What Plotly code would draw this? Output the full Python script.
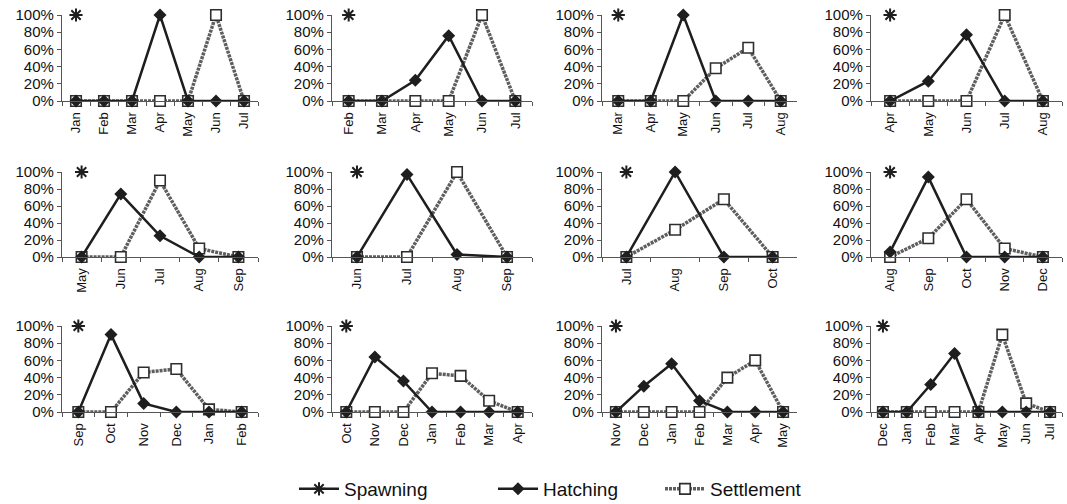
import plotly.graph_objects as go

W, H = 1067, 504

# Month sequence shown in each of the 12 panels (row by row)
panel_months = [
    ["Jan", "Feb", "Mar", "Apr", "May", "Jun", "Jul"],
    ["Feb", "Mar", "Apr", "May", "Jun", "Jul"],
    ["Mar", "Apr", "May", "Jun", "Jul", "Aug"],
    ["Apr", "May", "Jun", "Jul", "Aug"],
    ["May", "Jun", "Jul", "Aug", "Sep"],
    ["Jun", "Jul", "Aug", "Sep"],
    ["Jul", "Aug", "Sep", "Oct"],
    ["Aug", "Sep", "Oct", "Nov", "Dec"],
    ["Sep", "Oct", "Nov", "Dec", "Jan", "Feb"],
    ["Oct", "Nov", "Dec", "Jan", "Feb", "Mar", "Apr"],
    ["Nov", "Dec", "Jan", "Feb", "Mar", "Apr", "May"],
    ["Dec", "Jan", "Feb", "Mar", "Apr", "May", "Jun", "Jul"],
]

# Spawning: one event per panel, in the first month shown
spawning = [1.0, 1.0, 1.0, 1.0, 1.0, 1.0, 1.0, 1.0, 1.0, 1.0, 1.0, 1.0]

# Share of hatching per month
hatching = [
    [0, 0, 0, 1.00, 0, 0, 0],
    [0, 0, 0.24, 0.76, 0, 0],
    [0, 0, 1.00, 0, 0, 0],
    [0, 0.23, 0.77, 0, 0],
    [0, 0.74, 0.25, 0, 0],
    [0, 0.97, 0.03, 0],
    [0, 1.00, 0, 0],
    [0.06, 0.94, 0, 0, 0],
    [0, 0.90, 0.10, 0, 0, 0],
    [0, 0.64, 0.36, 0, 0, 0, 0],
    [0, 0.30, 0.56, 0.13, 0, 0, 0],
    [0, 0, 0.32, 0.68, 0, 0, 0, 0],
]

# Share of settlement per month
settlement = [
    [0, 0, 0, 0, 0, 1.00, 0],
    [0, 0, 0, 0, 1.00, 0],
    [0, 0, 0, 0.38, 0.62, 0],
    [0, 0, 0, 1.00, 0],
    [0, 0, 0.90, 0.10, 0],
    [0, 0, 1.00, 0],
    [0, 0.32, 0.68, 0],
    [0, 0.22, 0.68, 0.10, 0],
    [0, 0, 0.46, 0.50, 0.03, 0],
    [0, 0, 0, 0.45, 0.42, 0.13, 0],
    [0, 0, 0, 0, 0.40, 0.60, 0],
    [0, 0, 0, 0, 0, 0.90, 0.10, 0],
]

y_ticks = [0, 0.2, 0.4, 0.6, 0.8, 1.0]

# Plot-area geometry in pixels
col_px = [(62, 258), (332, 532), (602, 797), (871, 1062)]
row_px = [(15, 101), (172, 257), (326, 412)]

FONT = "Arial, Liberation Sans, sans-serif"
DARK = "#1e1e1e"
AXIS = "#555555"

fig = go.Figure()

for i, months in enumerate(panel_months):
    r, c = divmod(i, 4)
    k = i + 1
    xa = "x" if k == 1 else f"x{k}"
    ya = "y" if k == 1 else f"y{k}"
    first = i == 0

    fig.add_trace(go.Scatter(
        x=months, y=settlement[i], xaxis=xa, yaxis=ya,
        mode="lines+markers", name="Settlement", legend="legend3",
        showlegend=first, cliponaxis=False,
        line=dict(color="#5e5e5e", width=3.5, dash="3px,1px"),
        marker=dict(symbol="square", size=10.5, color="white",
                    line=dict(color="#2e2e2e", width=1.6)),
    ))
    fig.add_trace(go.Scatter(
        x=months, y=hatching[i], xaxis=xa, yaxis=ya,
        mode="lines+markers", name="Hatching", legend="legend2",
        showlegend=first, cliponaxis=False,
        line=dict(color=DARK, width=2.5),
        marker=dict(symbol="diamond", size=10, color=DARK),
    ))
    fig.add_trace(go.Scatter(
        x=[months[0]], y=[spawning[i]], xaxis=xa, yaxis=ya,
        mode="lines+markers", name="Spawning", legend="legend",
        showlegend=first, cliponaxis=False,
        line=dict(color=DARK, width=2.5),
        marker=dict(symbol="asterisk-open", size=11,
                    line=dict(color="#2a2a2a", width=2)),
    ))

    x0, x1 = col_px[c]
    t, b = row_px[r]
    xkey = "xaxis" if k == 1 else f"xaxis{k}"
    ykey = "yaxis" if k == 1 else f"yaxis{k}"
    fig.layout[xkey] = dict(
        domain=[x0 / W, x1 / W], anchor=ya, type="category",
        categoryorder="array", categoryarray=months,
        range=[-0.5, len(months) - 0.5], tickson="boundaries",
        ticks="outside", ticklen=4, tickcolor=AXIS, tickwidth=1,
        showline=True, linecolor=AXIS, linewidth=1.2,
        showgrid=False, zeroline=False, tickangle=-90,
        ticklabelstandoff=5, automargin=False,
        tickfont=dict(family=FONT, size=13, color="#111111"),
        fixedrange=True,
    )
    fig.layout[ykey] = dict(
        domain=[(H - b) / H, (H - t) / H], anchor=xa,
        range=[0, 1], tickvals=y_ticks, tickformat=".0%",
        ticks="outside", ticklen=4, tickcolor=AXIS, tickwidth=1,
        showline=True, linecolor=AXIS, linewidth=1.2,
        showgrid=False, zeroline=False, automargin=False,
        tickfont=dict(family=FONT, size=15, color="#111111"),
        fixedrange=True,
    )

legend_common = dict(
    orientation="h", yanchor="middle", xanchor="left", y=(H - 489) / H,
    font=dict(family=FONT, size=19, color="#111111"),
    bgcolor="rgba(0,0,0,0)", itemwidth=40,
)
fig.update_layout(
    width=W, height=H,
    margin=dict(l=0, r=0, t=0, b=0, autoexpand=False),
    paper_bgcolor="white", plot_bgcolor="white",
    legend=dict(legend_common, x=294 / W),
    legend2=dict(legend_common, x=493 / W),
    legend3=dict(legend_common, x=660 / W),
)

fig.write_html("out.html")
